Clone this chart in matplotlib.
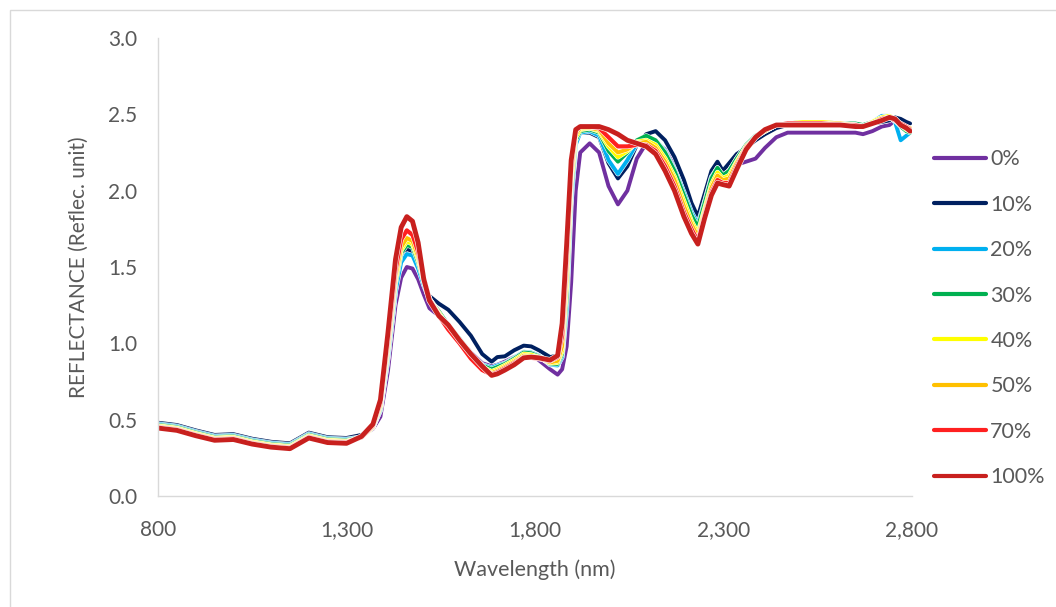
import matplotlib
matplotlib.use("Agg")
import matplotlib.pyplot as plt
import matplotlib.patheffects as pe
from matplotlib.patches import Rectangle

plt.rcParams['font.family'] = ['Lato', 'DejaVu Sans']

# wavelength grid (nm) shared by all series
wavelength = [
    800, 850, 900, 950, 1000, 1050, 1100, 1150, 1200, 1250, 1300,
    1340, 1370, 1390, 1410, 1430, 1445, 1460, 1475, 1490, 1505, 1520,
    1545, 1570, 1600, 1630, 1660, 1685, 1700, 1720, 1745, 1770,
    1790, 1810, 1840, 1860, 1872, 1884, 1896, 1908, 1920, 1945,
    1970, 1995, 2020, 2045, 2070, 2095, 2120, 2145, 2170, 2195,
    2215, 2232, 2250, 2268, 2284, 2298, 2315, 2335, 2360, 2385,
    2410, 2440, 2470, 2510, 2560, 2610, 2650, 2670, 2695, 2720,
    2740, 2755, 2770, 2785, 2795,
]

r0 = [
    0.48, 0.462, 0.428, 0.398, 0.402, 0.372, 0.352, 0.342, 0.41, 0.382, 0.378,
    0.395, 0.44, 0.52, 0.82, 1.25, 1.43, 1.50, 1.49, 1.42, 1.32, 1.23,
    1.18, 1.12, 1.03, 0.94, 0.87, 0.85, 0.86, 0.88, 0.91, 0.935,
    0.925, 0.89, 0.83, 0.795, 0.83, 0.98, 1.40, 2.00, 2.25, 2.31,
    2.25, 2.03, 1.91, 2.00, 2.21, 2.31, 2.32, 2.27, 2.16, 2.00,
    1.87, 1.80, 1.94, 2.07, 2.11, 2.13, 2.15, 2.17, 2.19, 2.21,
    2.28, 2.35, 2.38, 2.38, 2.38, 2.38, 2.38, 2.37, 2.39, 2.42,
    2.43, 2.46, 2.44, 2.40, 2.39,
]
r10 = [
    0.48, 0.465, 0.43, 0.40, 0.405, 0.375, 0.355, 0.345, 0.415, 0.385, 0.38,
    0.40, 0.45, 0.56, 0.90, 1.35, 1.56, 1.62, 1.60, 1.51, 1.39, 1.31,
    1.26, 1.22, 1.14, 1.05, 0.93, 0.88, 0.91, 0.915, 0.955, 0.985,
    0.98, 0.955, 0.91, 0.92, 1.00, 1.35, 2.00, 2.33, 2.38, 2.38,
    2.35, 2.18, 2.08, 2.16, 2.30, 2.37, 2.39, 2.33, 2.22, 2.07,
    1.92, 1.83, 1.98, 2.13, 2.19, 2.13, 2.18, 2.24, 2.28, 2.33,
    2.37, 2.41, 2.43, 2.44, 2.45, 2.44, 2.43, 2.42, 2.44, 2.45,
    2.46, 2.48, 2.47, 2.45, 2.44,
]
r20 = [
    0.472, 0.457, 0.422, 0.392, 0.397, 0.367, 0.347, 0.337, 0.407, 0.377, 0.372,
    0.387, 0.447, 0.565, 0.91, 1.34, 1.53, 1.585, 1.575, 1.49, 1.38, 1.29,
    1.20, 1.12, 1.03, 0.93, 0.86, 0.84, 0.855, 0.87, 0.905, 0.945,
    0.94, 0.92, 0.86, 0.855, 0.91, 1.22, 1.93, 2.30, 2.38, 2.39,
    2.36, 2.20, 2.11, 2.20, 2.31, 2.35, 2.33, 2.26, 2.14, 1.99,
    1.86, 1.78, 1.93, 2.09, 2.15, 2.10, 2.13, 2.21, 2.30, 2.36,
    2.39, 2.43, 2.44, 2.45, 2.45, 2.44, 2.43, 2.43, 2.45, 2.49,
    2.49, 2.45, 2.33, 2.36, 2.38,
]
r30 = [
    0.466, 0.451, 0.416, 0.386, 0.391, 0.361, 0.341, 0.331, 0.401, 0.371, 0.366,
    0.385, 0.45, 0.575, 0.94, 1.39, 1.59, 1.645, 1.63, 1.53, 1.40, 1.29,
    1.21, 1.12, 1.03, 0.93, 0.855, 0.83, 0.845, 0.865, 0.90, 0.94,
    0.935, 0.915, 0.865, 0.865, 0.93, 1.30, 2.00, 2.33, 2.39, 2.40,
    2.38, 2.26, 2.19, 2.25, 2.33, 2.36, 2.33, 2.25, 2.13, 1.97,
    1.84, 1.76, 1.92, 2.08, 2.15, 2.10, 2.13, 2.21, 2.30, 2.36,
    2.39, 2.43, 2.44, 2.45, 2.45, 2.44, 2.44, 2.43, 2.45, 2.48,
    2.49, 2.46, 2.42, 2.39, 2.38,
]
r40 = [
    0.46, 0.445, 0.41, 0.38, 0.385, 0.355, 0.335, 0.325, 0.395, 0.365, 0.36,
    0.382, 0.45, 0.585, 0.96, 1.41, 1.61, 1.67, 1.65, 1.55, 1.41, 1.29,
    1.20, 1.11, 1.02, 0.92, 0.845, 0.815, 0.83, 0.855, 0.89, 0.93,
    0.925, 0.91, 0.87, 0.875, 0.95, 1.38, 2.05, 2.35, 2.40, 2.41,
    2.39, 2.29, 2.22, 2.26, 2.32, 2.33, 2.30, 2.21, 2.09, 1.93,
    1.80, 1.72, 1.88, 2.04, 2.12, 2.08, 2.10, 2.19, 2.29, 2.35,
    2.39, 2.43, 2.44, 2.45, 2.45, 2.44, 2.43, 2.42, 2.45, 2.48,
    2.49, 2.47, 2.43, 2.40, 2.39,
]
r50 = [
    0.455, 0.44, 0.405, 0.375, 0.38, 0.35, 0.33, 0.32, 0.39, 0.36, 0.355,
    0.383, 0.455, 0.595, 0.98, 1.44, 1.63, 1.69, 1.67, 1.57, 1.42, 1.29,
    1.19, 1.10, 1.01, 0.91, 0.835, 0.805, 0.82, 0.845, 0.88, 0.92,
    0.915, 0.905, 0.875, 0.885, 0.98, 1.45, 2.10, 2.37, 2.41, 2.41,
    2.40, 2.31, 2.25, 2.27, 2.31, 2.32, 2.28, 2.19, 2.07, 1.90,
    1.78, 1.70, 1.86, 2.02, 2.10, 2.07, 2.08, 2.18, 2.29, 2.35,
    2.39, 2.43, 2.44, 2.44, 2.44, 2.44, 2.43, 2.42, 2.44, 2.47,
    2.48, 2.46, 2.43, 2.42, 2.41,
]
r70 = [
    0.45, 0.435, 0.40, 0.37, 0.375, 0.345, 0.325, 0.315, 0.385, 0.355, 0.35,
    0.385, 0.46, 0.61, 1.02, 1.48, 1.68, 1.74, 1.71, 1.60, 1.43, 1.29,
    1.18, 1.09, 1.00, 0.90, 0.825, 0.795, 0.81, 0.835, 0.87, 0.91,
    0.905, 0.90, 0.885, 0.91, 1.05, 1.55, 2.15, 2.39, 2.42, 2.42,
    2.41, 2.35, 2.29, 2.29, 2.30, 2.30, 2.26, 2.16, 2.03, 1.86,
    1.75, 1.67, 1.84, 1.99, 2.07, 2.05, 2.05, 2.16, 2.28, 2.35,
    2.40, 2.43, 2.44, 2.44, 2.44, 2.43, 2.43, 2.42, 2.44, 2.47,
    2.48, 2.46, 2.44, 2.42, 2.40,
]
r100 = [
    0.445, 0.43, 0.395, 0.365, 0.37, 0.34, 0.32, 0.31, 0.38, 0.35, 0.345,
    0.39, 0.47, 0.63, 1.07, 1.55, 1.76, 1.83, 1.80, 1.66, 1.42, 1.28,
    1.18, 1.12, 1.02, 0.93, 0.85, 0.79, 0.80, 0.825, 0.86, 0.905,
    0.91, 0.905, 0.89, 0.92, 1.13, 1.65, 2.20, 2.40, 2.42, 2.42,
    2.42, 2.40, 2.37, 2.33, 2.31, 2.29, 2.24, 2.13, 2.00, 1.83,
    1.72, 1.65, 1.82, 1.97, 2.05, 2.04, 2.03, 2.14, 2.27, 2.35,
    2.40, 2.43, 2.43, 2.43, 2.43, 2.43, 2.42, 2.42, 2.44, 2.46,
    2.48, 2.47, 2.43, 2.41, 2.39,
]

labels = ['0%', '10%', '20%', '30%', '40%', '50%', '70%', '100%']
series = [r0, r10, r20, r30, r40, r50, r70, r100]
colors = ['#7030A0', '#002060', '#00B0F0', '#00B050', '#FFFF00', '#FFC000',
          '#FF2020', '#C8201E']
widths = [2.8, 2.8, 2.8, 2.8, 2.8, 2.8, 3.0, 3.5]

x_ticks = [800, 1300, 1800, 2300, 2800]
y_ticks = [0.0, 0.5, 1.0, 1.5, 2.0, 2.5, 3.0]

fig = plt.figure(figsize=(10.56, 6.07), dpi=100)
ax = fig.add_axes([158 / 1056, 1 - 496 / 607, (912 - 158) / 1056, (496 - 38) / 607])

# light chart-area border like the office chart frame
fig.patches.append(Rectangle((10 / 1056, -0.1), 1.2, 1 - 10 / 607 + 0.1,
                             transform=fig.transFigure, fill=False,
                             edgecolor='#D9D9D9', linewidth=1.0))

for vals, lab, col, lw in zip(series, labels, colors, widths):
    ax.plot(wavelength, vals, color=col, lw=lw, label=lab,
            solid_capstyle='round', solid_joinstyle='round',
            path_effects=[pe.Stroke(linewidth=lw + 0.8, foreground='white'), pe.Normal()])

ax.set_xlim(800, 2800)
ax.set_ylim(0, 3.0)
ax.set_xticks(x_ticks)
ax.set_xticklabels([f'{t:,}' for t in x_ticks])
ax.set_yticks(y_ticks)
ax.set_yticklabels([f'{t:.1f}' for t in y_ticks])
ax.tick_params(length=0, labelsize=15, colors='#595959')
ax.tick_params(axis='x', pad=17)
ax.tick_params(axis='y', pad=15)

for side in ['top', 'right']:
    ax.spines[side].set_visible(False)
for side in ['left', 'bottom']:
    ax.spines[side].set_color('#D9D9D9')
    ax.spines[side].set_linewidth(1.0)

ax.set_xlabel('Wavelength (nm)', fontsize=15.5, color='#595959', labelpad=14)
ax.set_ylabel('REFLECTANCE (Reflec. unit)', fontsize=15, color='#595959', labelpad=14)

handles, labs = ax.get_legend_handles_labels()
leg = fig.legend(handles, labs, loc='upper left',
                 bbox_to_anchor=(915 / 1056, 1 - 130 / 607),
                 frameon=False, fontsize=15.5, handlelength=2.4,
                 labelspacing=1.18, handletextpad=0.2, labelcolor='#595959')
for line in leg.get_lines():
    line.set_linewidth(3.0)
    line.set_path_effects([])

fig.savefig('out.png', dpi=100)
